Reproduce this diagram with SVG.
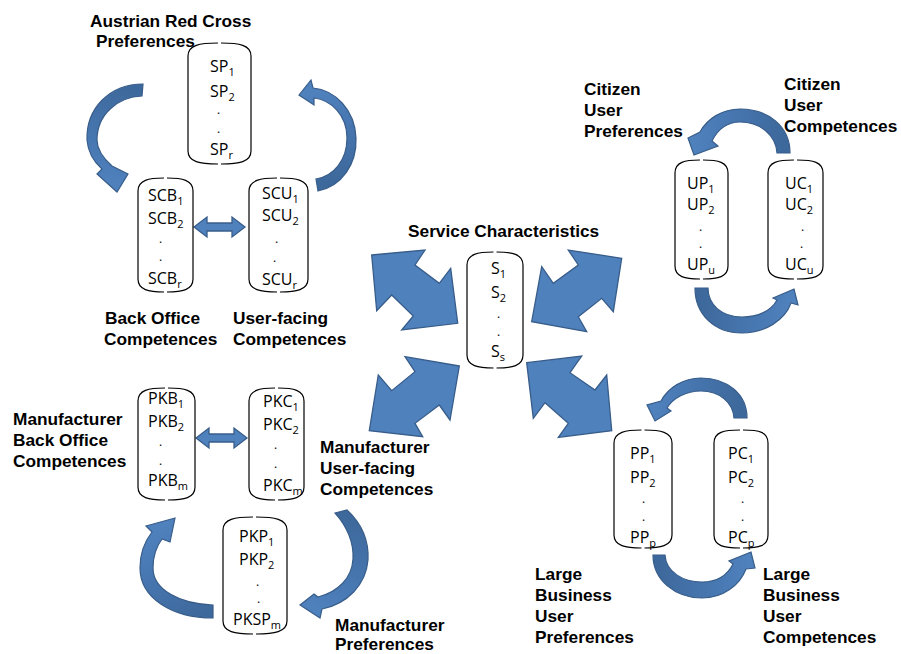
<svg xmlns="http://www.w3.org/2000/svg" width="901" height="654" viewBox="0 0 901 654">
<style>
.cyl{fill:none;stroke:#000;stroke-width:1.2}
.t{font-family:"Open Sans","Liberation Sans",sans-serif;font-size:16px;fill:#000}
.s{font-size:11px}
.d{font-family:"Open Sans","Liberation Sans",sans-serif;font-size:12px;fill:#000}
.lb{font-family:"Liberation Sans",Arial,sans-serif;font-weight:bold;font-size:17.3px;fill:#000}
.ar{fill:#4F81BD;stroke:#385D8A;stroke-width:1.3;stroke-linejoin:miter}
.ca{stroke:#385D8A;stroke-width:1.2;stroke-linejoin:miter}
</style>
<defs>
<linearGradient id="gA" gradientUnits="userSpaceOnUse" x1="143" y1="90" x2="115" y2="185"><stop offset="0" stop-color="#3D689B"/><stop offset="0.55" stop-color="#4675AE"/><stop offset="1" stop-color="#4F81BD"/></linearGradient>
<linearGradient id="gB" gradientUnits="userSpaceOnUse" x1="318" y1="185" x2="305" y2="93"><stop offset="0" stop-color="#3D689B"/><stop offset="0.55" stop-color="#4675AE"/><stop offset="1" stop-color="#4F81BD"/></linearGradient>
<linearGradient id="gC" gradientUnits="userSpaceOnUse" x1="784" y1="153" x2="694" y2="148"><stop offset="0" stop-color="#3D689B"/><stop offset="0.55" stop-color="#4675AE"/><stop offset="1" stop-color="#4F81BD"/></linearGradient>
<linearGradient id="gD" gradientUnits="userSpaceOnUse" x1="701" y1="288" x2="790" y2="298"><stop offset="0" stop-color="#3D689B"/><stop offset="0.55" stop-color="#4675AE"/><stop offset="1" stop-color="#4F81BD"/></linearGradient>
<linearGradient id="gE" gradientUnits="userSpaceOnUse" x1="740" y1="418" x2="655" y2="413"><stop offset="0" stop-color="#3D689B"/><stop offset="0.55" stop-color="#4675AE"/><stop offset="1" stop-color="#4F81BD"/></linearGradient>
<linearGradient id="gF" gradientUnits="userSpaceOnUse" x1="659" y1="555" x2="748" y2="560"><stop offset="0" stop-color="#3D689B"/><stop offset="0.55" stop-color="#4675AE"/><stop offset="1" stop-color="#4F81BD"/></linearGradient>
<linearGradient id="gG" gradientUnits="userSpaceOnUse" x1="213" y1="611" x2="165" y2="525"><stop offset="0" stop-color="#3D689B"/><stop offset="0.55" stop-color="#4675AE"/><stop offset="1" stop-color="#4F81BD"/></linearGradient>
<linearGradient id="gH" gradientUnits="userSpaceOnUse" x1="341" y1="511" x2="305" y2="605"><stop offset="0" stop-color="#3D689B"/><stop offset="0.55" stop-color="#4675AE"/><stop offset="1" stop-color="#4F81BD"/></linearGradient>
</defs>
<rect width="901" height="654" fill="#fff"/>
<g id="connectors">
<polygon class="ar" points="371.7,255 425,250 415,265 439.3,283.3 450.7,268.3 457.7,323.3 401.7,330 413.3,316 391.7,295 376.7,310.7"/>
<polygon class="ar" points="621.7,258.3 568.3,250 578.3,265 553.3,283.3 541.7,266.7 531.7,321.7 586.7,331.7 578.3,316.7 601.7,298.3 613.3,311.7"/>
<polygon class="ar" points="459.3,366 405,356.7 415,371.7 391.7,390.7 378.3,375 369.3,430.7 422.7,436.7 415,423.3 439.3,405 450,420"/>
<polygon class="ar" points="526.7,362.7 581.7,356 570,372.7 595,390 606.7,375 611.7,430.7 558.3,437.3 568.3,423.3 545,402.7 533.3,418.3"/>
<polygon class="ar" points="194,227 207,217 207,223 232,223 232,217 245,227 232,237 232,231 207,231 207,237"/>
<polygon class="ar" points="196,438 209,428 209,434 234,434 234,428 247,438 234,448 234,442 209,442 209,448"/>
<path class="ca" fill="url(#gA)" d="M143,84 C110,84 86,108 87,140 C88,152 94,162 102,169 L97,174 L117,192 L128,174 L112,166 C103,158 97,150 97,140 C97,115 117,97 142,96 Z"/>
<path class="ca" fill="url(#gB)" d="M318,191 C342,186 357,164 356,138 C355,110 335,90 313,88 L311,80 L299,95 L314,105 L314,98 C331,100 347,115 347,138 C347,160 334,176 316,179 Z"/>
<path class="ca" fill="url(#gC)" d="M790,153 C790,126 768,109 740,109 C722,109 707,119 700,132 L688,138 L694,155 L718,146 L712,141 C718,129 728,122 740,122 C760,122 776,135 777,153 Z"/>
<path class="ca" fill="url(#gD)" d="M695,288 C695,315 715,333 742,333 C765,333 785,320 791,303 L798,305 L794,289 L773,298 L777,300 C771,311 758,317 742,317 C722,317 708,305 708,288 Z"/>
<path class="ca" fill="url(#gE)" d="M747,418 C747,394 727,378 701,378 C683,378 668,388 661,401 L647,405 L655,421 L671,411 L667,408 C673,398 686,391 701,391 C720,391 733,403 734,418 Z"/>
<path class="ca" fill="url(#gF)" d="M653,555 C653,580 675,598 702,598 C723,598 740,585 746,569 L755,568 L751,552 L729,561 L733,564 C727,576 716,582 702,582 C683,582 666,572 665,555 Z"/>
<path class="ca" fill="url(#gG)" d="M213,618 C172,618 140,598 140,568 C140,553 145,541 152,532 L146,526 L175,518 L170,542 L162,539 C156,547 153,557 153,568 C153,590 180,604 213,605 Z"/>
<path class="ca" fill="url(#gH)" d="M347,510 C362,524 369,542 368,560 C366,585 347,604 322,609 L320,618 L300,605 L314,594 L318,597 C338,592 352,578 353,559 C354,543 347,526 335,513 Z"/>
</g>
<g id="n-SP">
<path class="cyl" d="M218,43 C200,43 188,45 188,56 L188,151 C188,162 200,164 218,164 M221,43 C239,43 251,45 251,56 L251,151 C251,162 239,164 221,164"/>
<text class="t" x="210" y="72">SP<tspan class="s" dy="4">1</tspan></text>
<text class="t" x="210" y="97">SP<tspan class="s" dy="4">2</tspan></text>
<text class="d" x="217" y="114">.</text>
<text class="d" x="217" y="133">.</text>
<text class="t" x="210" y="155">SP<tspan class="s" dy="4">r</tspan></text>
</g>
<g id="n-SCB">
<path class="cyl" d="M164,178 C149,178 138,180 138,191 L138,279 C138,290 149,292 164,292 M167,178 C182,178 193,180 193,191 L193,279 C193,290 182,292 167,292"/>
<text class="t" x="148" y="201">SCB<tspan class="s" dy="4">1</tspan></text>
<text class="t" x="148" y="224">SCB<tspan class="s" dy="4">2</tspan></text>
<text class="d" x="159" y="243">.</text>
<text class="d" x="159" y="261">.</text>
<text class="t" x="148" y="284">SCB<tspan class="s" dy="4">r</tspan></text>
</g>
<g id="n-SCU">
<path class="cyl" d="M277,178 C261,178 249,180 249,191 L249,279 C249,290 261,292 277,292 M280,178 C296,178 308,180 308,191 L308,279 C308,290 296,292 280,292"/>
<text class="t" x="262" y="199">SCU<tspan class="s" dy="4">1</tspan></text>
<text class="t" x="262" y="221">SCU<tspan class="s" dy="4">2</tspan></text>
<text class="d" x="275" y="243">.</text>
<text class="d" x="273" y="262">.</text>
<text class="t" x="262" y="285">SCU<tspan class="s" dy="4">r</tspan></text>
</g>
<g id="n-S">
<path class="cyl" d="M493.5,252 C478,252 467,254 467,265 L467,355 C467,366 478,368 493.5,368 M496.5,252 C512,252 523,254 523,265 L523,355 C523,366 512,368 496.5,368"/>
<text class="t" x="491" y="274">S<tspan class="s" dy="4">1</tspan></text>
<text class="t" x="491" y="298">S<tspan class="s" dy="4">2</tspan></text>
<text class="d" x="497" y="318">.</text>
<text class="d" x="497" y="336">.</text>
<text class="t" x="491" y="357">S<tspan class="s" dy="4">s</tspan></text>
</g>
<g id="n-UP">
<path class="cyl" d="M700,160 C685,160 675,162 675,173 L675,266 C675,277 685,279 700,279 M703,160 C718,160 728,162 728,173 L728,266 C728,277 718,279 703,279"/>
<text class="t" x="687" y="189">UP<tspan class="s" dy="4">1</tspan></text>
<text class="t" x="687" y="210">UP<tspan class="s" dy="4">2</tspan></text>
<text class="d" x="699" y="231">.</text>
<text class="d" x="699" y="248">.</text>
<text class="t" x="687" y="270">UP<tspan class="s" dy="4">u</tspan></text>
</g>
<g id="n-UC">
<path class="cyl" d="M794,160 C778,160 768,162 768,173 L768,266 C768,277 778,279 794,279 M797,160 C813,160 823,162 823,173 L823,266 C823,277 813,279 797,279"/>
<text class="t" x="785" y="189">UC<tspan class="s" dy="4">1</tspan></text>
<text class="t" x="785" y="210">UC<tspan class="s" dy="4">2</tspan></text>
<text class="d" x="801" y="231">.</text>
<text class="d" x="800" y="248">.</text>
<text class="t" x="785" y="270">UC<tspan class="s" dy="4">u</tspan></text>
</g>
<g id="n-PKB">
<path class="cyl" d="M165,388 C149,388 138,390 138,401 L138,487 C138,498 149,500 165,500 M168,388 C184,388 195,390 195,401 L195,487 C195,498 184,500 168,500"/>
<text class="t" x="148" y="404">PKB<tspan class="s" dy="4">1</tspan></text>
<text class="t" x="148" y="427">PKB<tspan class="s" dy="4">2</tspan></text>
<text class="d" x="159" y="446">.</text>
<text class="d" x="159" y="465">.</text>
<text class="t" x="148" y="486">PKB<tspan class="s" dy="4">m</tspan></text>
</g>
<g id="n-PKC">
<path class="cyl" d="M275,388 C260,388 249,390 249,401 L249,487 C249,498 260,500 275,500 M278,388 C293,388 304,390 304,401 L304,487 C304,498 293,500 278,500"/>
<text class="t" x="263" y="407">PKC<tspan class="s" dy="4">1</tspan></text>
<text class="t" x="263" y="430">PKC<tspan class="s" dy="4">2</tspan></text>
<text class="d" x="274" y="449">.</text>
<text class="d" x="274" y="468">.</text>
<text class="t" x="263" y="491">PKC<tspan class="s" dy="4">m</tspan></text>
</g>
<g id="n-PKP">
<path class="cyl" d="M253,517 C235,517 223,519 223,530 L223,621 C223,632 235,634 253,634 M256,517 C274,517 287,519 287,530 L287,621 C287,632 274,634 256,634"/>
<text class="t" x="239" y="542">PKP<tspan class="s" dy="4">1</tspan></text>
<text class="t" x="239" y="565">PKP<tspan class="s" dy="4">2</tspan></text>
<text class="d" x="256" y="586">.</text>
<text class="d" x="257" y="603">.</text>
<text class="t" x="233" y="625">PKSP<tspan class="s" dy="4">m</tspan></text>
</g>
<g id="n-PP">
<path class="cyl" d="M641.5,430 C626,430 614,432 614,443 L614,535 C614,546 626,548 641.5,548 M644.5,430 C660,430 672,432 672,443 L672,535 C672,546 660,548 644.5,548"/>
<text class="t" x="630" y="459">PP<tspan class="s" dy="4">1</tspan></text>
<text class="t" x="630" y="483">PP<tspan class="s" dy="4">2</tspan></text>
<text class="d" x="642" y="503">.</text>
<text class="d" x="642" y="521">.</text>
<text class="t" x="630" y="543">PP<tspan class="s" dy="4">p</tspan></text>
</g>
<g id="n-PC">
<path class="cyl" d="M740,430 C724,430 714,432 714,443 L714,535 C714,546 724,548 740,548 M743,430 C759,430 768,432 768,443 L768,535 C768,546 759,548 743,548"/>
<text class="t" x="728" y="459">PC<tspan class="s" dy="4">1</tspan></text>
<text class="t" x="728" y="483">PC<tspan class="s" dy="4">2</tspan></text>
<text class="d" x="741" y="503">.</text>
<text class="d" x="741" y="521">.</text>
<text class="t" x="728" y="543">PC<tspan class="s" dy="4">p</tspan></text>
</g>
<g id="labels">
<text class="lb" x="90" y="26.5">Austrian Red Cross</text>
<text class="lb" x="96" y="47">Preferences</text>
<text class="lb" x="105" y="324">Back Office</text>
<text class="lb" x="104" y="345">Competences</text>
<text class="lb" x="233" y="324">User-facing</text>
<text class="lb" x="233" y="345">Competences</text>
<text class="lb" x="408" y="237">Service Characteristics</text>
<text class="lb" x="584" y="95">Citizen</text>
<text class="lb" x="584" y="116">User</text>
<text class="lb" x="584" y="137">Preferences</text>
<text class="lb" x="784" y="90">Citizen</text>
<text class="lb" x="784" y="111">User</text>
<text class="lb" x="784" y="132">Competences</text>
<text class="lb" x="13" y="425">Manufacturer</text>
<text class="lb" x="13" y="446">Back Office</text>
<text class="lb" x="13" y="467">Competences</text>
<text class="lb" x="320" y="453">Manufacturer</text>
<text class="lb" x="320" y="474">User-facing</text>
<text class="lb" x="320" y="495">Competences</text>
<text class="lb" x="335" y="631">Manufacturer</text>
<text class="lb" x="335" y="650">Preferences</text>
<text class="lb" x="535" y="580">Large</text>
<text class="lb" x="535" y="601">Business</text>
<text class="lb" x="535" y="622">User</text>
<text class="lb" x="535" y="643">Preferences</text>
<text class="lb" x="763" y="580">Large</text>
<text class="lb" x="763" y="601">Business</text>
<text class="lb" x="763" y="622">User</text>
<text class="lb" x="763" y="643">Competences</text>
</g>
</svg>
